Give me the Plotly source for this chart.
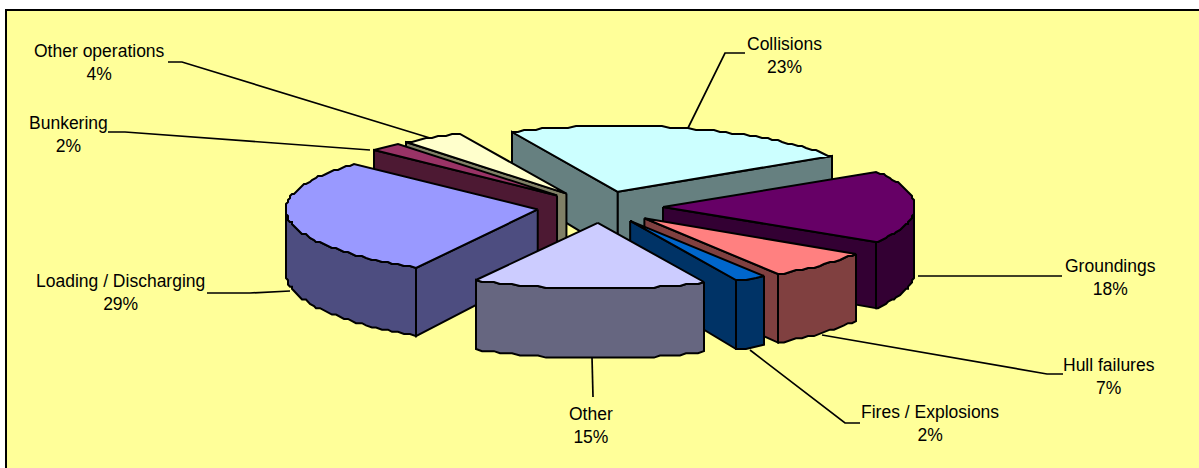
import numpy as np
import plotly.graph_objects as go

categories = ["Collisions", "Groundings", "Hull failures", "Fires / Explosions", "Other",
              "Loading / Discharging", "Bunkering", "Other operations"]
values = [23, 18, 7, 2, 15, 29, 2, 4]
top_colors = ["#CCFFFF", "#660066", "#FF8080", "#0066CC", "#CCCCFF", "#9999FF", "#993366", "#FFFFCC"]
side_colors = ["#668080", "#330033", "#804040", "#003366", "#666680", "#4D4D80", "#4D1933", "#808066"]
draw_order = [0, 7, 6, 5, 1, 2, 3, 4]

label_xy = [(784, 55), (1110, 277), (1109, 376), (930, 423), (591, 425), (120, 292), (68, 134), (99, 62)]
leaders = [
    [(745, 53), (725, 53), (688, 128)],
    [(918, 276), (1062, 276)],
    [(822, 335), (1047, 374), (1063, 374)],
    [(750, 350), (845, 423), (860, 423)],
    [(592, 357), (593, 397)],
    [(207, 293), (250, 293), (290, 291)],
    [(108, 132), (125, 132), (370, 150)],
    [(168, 62), (182, 62), (430, 138)],
]

CX, CY, A, B, EXPLODE_X, EXPLODE_Y = 600, 207, 252, 66, 0.25, 0.24
START = -25


def depth(y):
    return 48 + 0.075 * y


fig = go.Figure()


def face(xs, ys, color):
    fig.add_trace(go.Scatter(x=list(xs) + [xs[0]], y=list(ys) + [ys[0]], mode="lines", fill="toself",
                             fillcolor=color, line=dict(color="black", width=2),
                             hoverinfo="skip", showlegend=False))


def rim(axis_c, radius, angles, func):
    # the reference's rim is slightly stepped, so coordinates are snapped to a coarse grid
    return np.round((axis_c + radius * func(angles)) / 2.0) * 2.0


edges = START + np.concatenate([[0], np.cumsum(values)]) * 3.6
for i in draw_order:
    t0, t1 = edges[i], edges[i + 1]
    mid = np.radians((t0 + t1) / 2)
    ax = CX + EXPLODE_X * A * np.sin(mid)
    ay = CY - EXPLODE_Y * B * np.cos(mid)
    th = np.radians(np.linspace(t0, t1, max(int((t1 - t0) / 1.5), 4)))
    rx = rim(ax, A, th, np.sin)
    ry = rim(ay, -B, th, np.cos)

    # outer wall: only the front part of the rim
    front = np.cos(th) <= 0.0
    if front.any():
        fx, fy = rx[front], ry[front]
        face(np.r_[fx, fx[::-1]], np.r_[fy, (fy + depth(fy))[::-1]], side_colors[i])
    # radial walls that face the viewer
    if np.sin(th[0]) < 0:
        face([ax, rx[0], rx[0], ax], [ay, ry[0], ry[0] + depth(ry[0]), ay + depth(ay)], side_colors[i])
    if np.sin(th[-1]) > 0:
        face([ax, rx[-1], rx[-1], ax], [ay, ry[-1], ry[-1] + depth(ry[-1]), ay + depth(ay)], side_colors[i])
    # top face
    face(np.r_[ax, rx], np.r_[ay, ry], top_colors[i])

for pts in leaders:
    fig.add_trace(go.Scatter(x=[p[0] for p in pts], y=[p[1] for p in pts], mode="lines",
                             line=dict(color="black", width=1.7), hoverinfo="skip", showlegend=False))

for name, v, (lx, ly) in zip(categories, values, label_xy):
    fig.add_annotation(x=lx, y=ly, text=f"{name}<br>{v}%", showarrow=False, xanchor="center", yanchor="middle",
                       font=dict(family="Liberation Sans, Arial", size=17.5, color="black"), align="center")

fig.update_layout(
    width=1199, height=468, margin=dict(l=0, r=0, t=0, b=0),
    paper_bgcolor="white", plot_bgcolor="white", showlegend=False,
    xaxis=dict(range=[0, 1199], visible=False, fixedrange=True),
    yaxis=dict(range=[468, 0], visible=False, fixedrange=True),
    shapes=[dict(type="rect", x0=6, y0=10, x1=1240, y1=520, fillcolor="#FFFF99",
                 line=dict(color="black", width=2), layer="below")],
)
fig.write_html("out.html", post_script="document.body.style.margin='0';window.dispatchEvent(new Event('resize'));",
               config={"displayModeBar": False})
